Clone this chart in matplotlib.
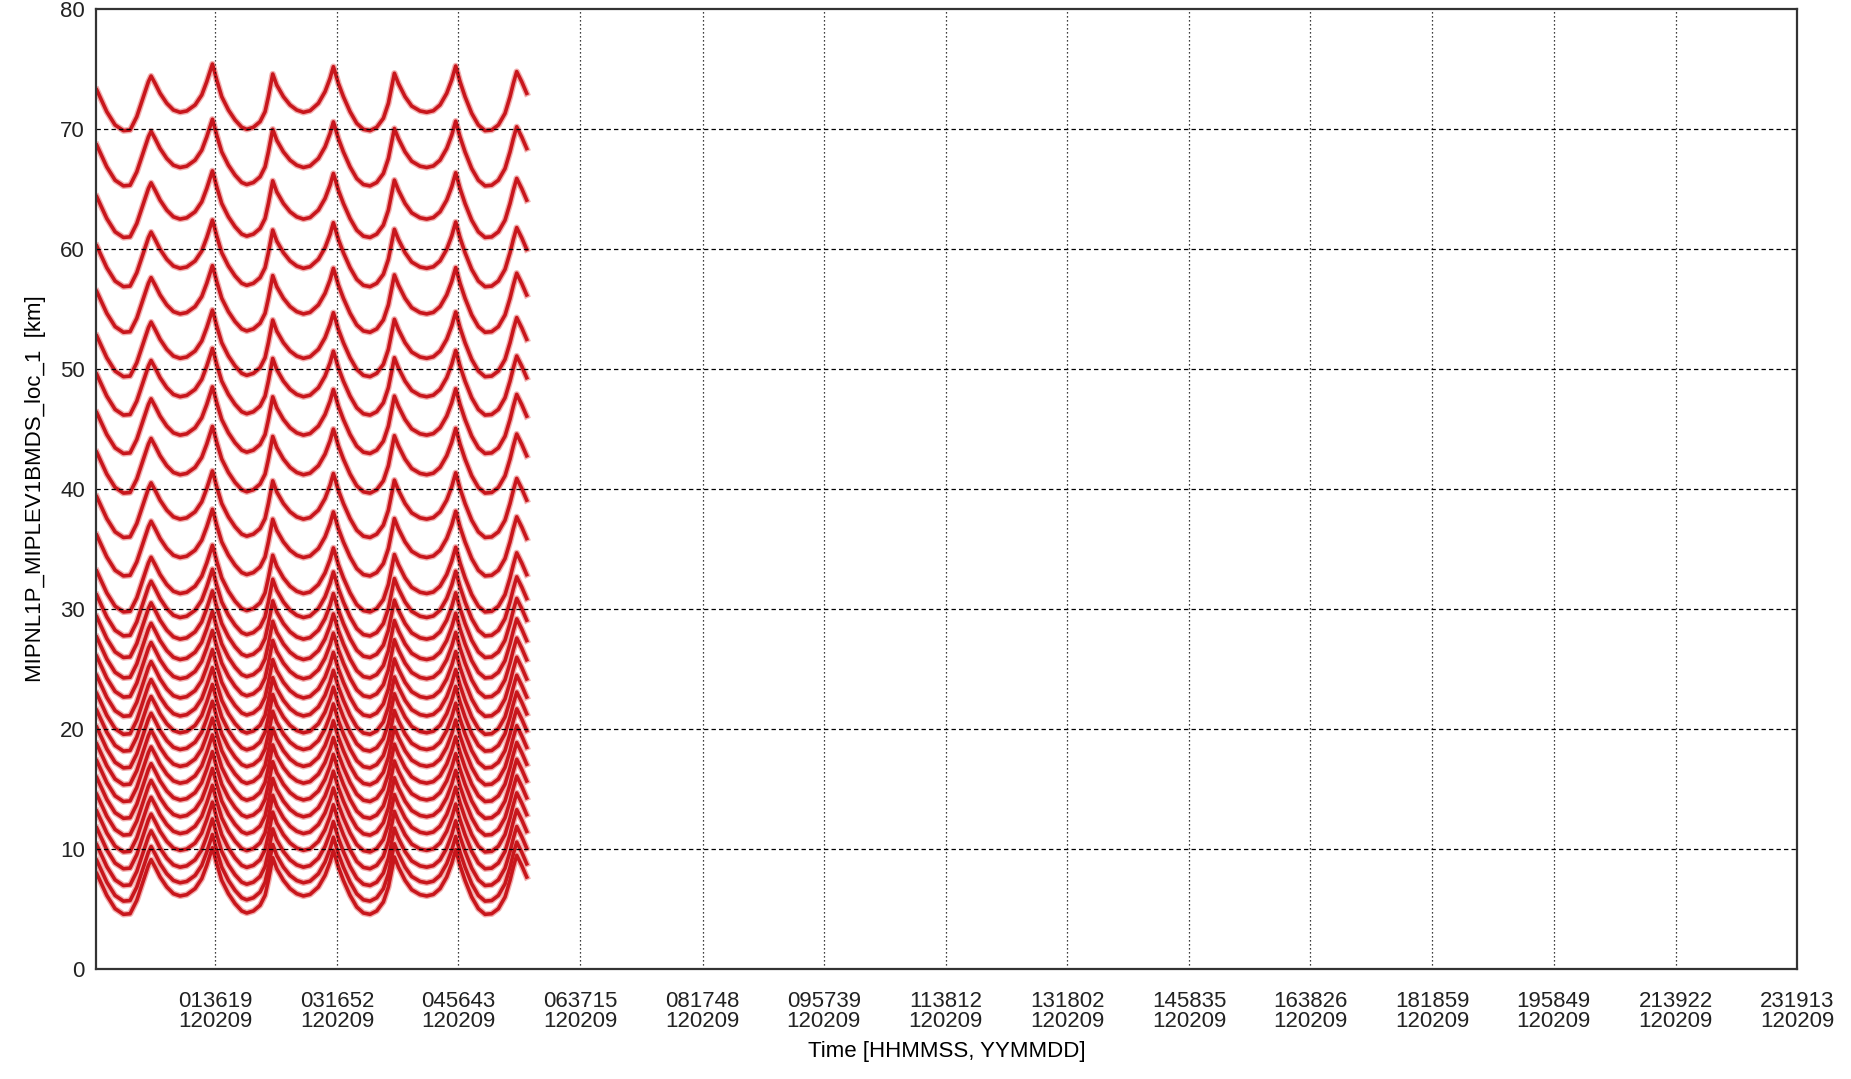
import numpy as np
import matplotlib
matplotlib.use("Agg")
import matplotlib.pyplot as plt

plt.rcParams['font.family'] = ['Liberation Sans', 'DejaVu Sans']

# Tick labels on the time axis (HHMMSS), all on 120209
tick_hhmmss = ['013619', '031652', '045643', '063715', '081748', '095739', '113812',
               '131802', '145835', '163826', '181859', '195849', '213922', '231913']
tick_date = '120209'

# Uppermost scan curve: time [min since 00:00] and altitude [km]
top_time = [-1.1, 7.11, 13.97, 20.84, 26.33, 31.82, 37.31, 41.42, 43.62, 46.91,
            51.03, 56.52, 62.01, 67.50, 72.99, 79.85, 85.34, 89.46, 94.13, 97.70,
            101.81, 107.30, 112.79, 118.28, 122.40, 127.89, 133.38, 137.50, 140.24, 143.81,
            147.11, 152.60, 158.09, 163.58, 169.07, 174.56, 181.42, 186.91, 191.03, 193.77,
            197.89, 202.01, 207.50, 212.99, 218.48, 223.97, 229.46, 234.95, 239.07, 241.81,
            244.00, 247.30, 252.79, 258.28, 265.14, 270.63, 276.12, 281.61, 287.10, 291.22,
            294.51, 298.08, 302.20, 307.69, 313.18, 318.67, 324.16, 329.65, 335.14, 339.26,
            342.00, 344.75, 348.87, 352.98]
top_alt = [73.25, 71.44, 70.33, 69.86, 69.91, 71.02, 72.69, 73.94, 74.41, 73.80,
           72.97, 72.14, 71.58, 71.39, 71.50, 72.00, 72.83, 73.94, 75.41, 74.08,
           72.69, 71.58, 70.75, 70.14, 69.97, 70.14, 70.61, 71.44, 72.69, 74.58,
           73.66, 72.69, 72.00, 71.58, 71.39, 71.52, 72.14, 73.11, 74.22, 75.19,
           73.80, 72.69, 71.44, 70.47, 69.97, 69.86, 70.14, 70.89, 72.14, 73.52,
           74.64, 73.80, 72.69, 71.91, 71.50, 71.39, 71.52, 72.00, 72.97, 74.08,
           75.25, 73.94, 72.69, 71.30, 70.33, 69.86, 69.91, 70.33, 71.30, 72.69,
           73.80, 74.78, 73.94, 72.97]

# Polar (deep trough) altitude of each sweep, top to bottom [km]
level_base = [69.9, 65.3, 61.0, 56.9, 53.1, 49.4, 46.2, 43.0, 39.7, 36.0,
              32.8, 29.8, 27.8, 26.0, 24.3, 22.7, 21.1, 19.6, 18.2, 16.8,
              15.4, 14.0, 12.6, 11.2, 9.8, 8.4, 7.0, 5.7, 4.6]


def hhmmss_to_min(s):
    return int(s[:2]) * 60 + int(s[2:4]) + int(s[4:]) / 60.0


tick_pos = [hhmmss_to_min(s) for s in tick_hhmmss]
tick_lab = [s + '\n' + tick_date for s in tick_hhmmss]

fig = plt.figure(figsize=(18.51, 10.79), dpi=100)
ax = fig.add_axes([0.0519, 0.1019, 0.9189, 0.8898])

t = np.array(top_time)
a = np.array(top_alt)
for base in level_base:
    y = a - level_base[0] + base
    # light fringe around each dotted sweep, then the sweep itself
    ax.plot(t, y, color='#f2b0b0', lw=4.6, solid_joinstyle='round', zorder=1)
for base in level_base:
    y = a - level_base[0] + base
    ax.plot(t, y, color='#c8161c', lw=2.6, solid_joinstyle='round', zorder=2)

ax.set_xlim(-1.7, tick_pos[-1])
ax.set_ylim(0, 80)
ax.set_xticks(tick_pos)
ax.set_xticklabels(tick_lab, fontsize=16, linespacing=0.95)
ax.set_yticks(np.arange(0, 81, 10))
ax.tick_params(axis='x', length=0, pad=16, labelsize=16, colors='#222222')
ax.tick_params(axis='y', length=0, pad=8, labelsize=16, colors='#222222')

# grid on top of the data, like the original
for yv in range(10, 80, 10):
    ax.axhline(yv, color='black', lw=0.9, ls=(0, (3.5, 2.5)), zorder=3)
for x in tick_pos[:-1]:
    ax.axvline(x, color='black', lw=0.9, ls=(0, (1, 2.2)), zorder=3)

for sp in ax.spines.values():
    sp.set_linewidth(1.6)
    sp.set_color('#333333')
    sp.set_zorder(4)

ax.set_xlabel('Time [HHMMSS, YYMMDD]', fontsize=16, labelpad=6)
ax.set_ylabel('MIPNL1P_MIPLEV1BMDS_loc_1  [km]', fontsize=16, labelpad=10)

fig.savefig('out.png', dpi=100)
